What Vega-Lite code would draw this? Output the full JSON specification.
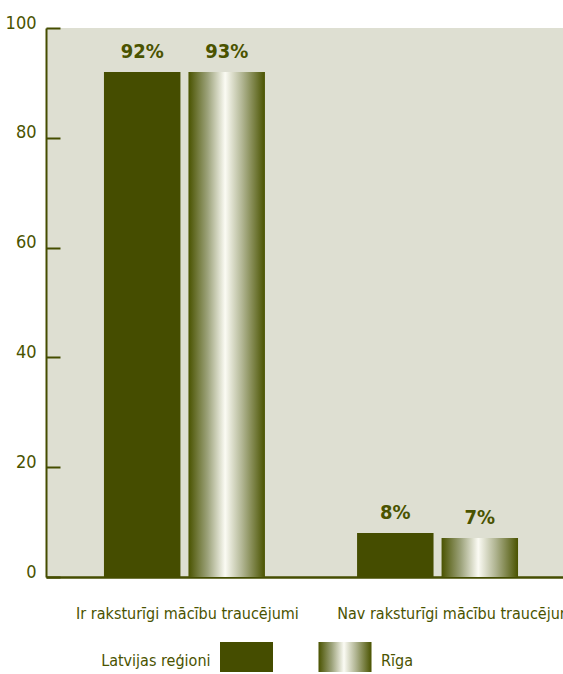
{
  "$schema": "https://vega.github.io/schema/vega-lite/v6.json",
  "background": "white",
  "padding": {"left": 5, "top": 14, "right": 0, "bottom": 0},
  "config": {
    "font": "DejaVu Sans Condensed, DejaVu Sans, sans-serif",
    "view": {"stroke": null}
  },
  "datasets": {
    "bars": [
      {"category": "Ir raksturīgi mācību traucējumi", "series": "Latvijas reģioni", "value": 92, "label": "92%"},
      {"category": "Ir raksturīgi mācību traucējumi", "series": "Rīga", "value": 92, "label": "93%"},
      {"category": "Nav raksturīgi mācību traucējumi", "series": "Latvijas reģioni", "value": 8, "label": "8%"},
      {"category": "Nav raksturīgi mācību traucējumi", "series": "Rīga", "value": 7.1, "label": "7%"}
    ],
    "legend": [
      {"series": "Latvijas reģioni"},
      {"series": "Rīga"}
    ]
  },
  "spacing": 65,
  "bounds": "flush",
  "resolve": {"scale": {"x": "independent", "y": "independent"}},
  "vconcat": [
    {
      "width": 530,
      "height": 549,
      "view": {"fill": "#dedfd2", "stroke": null},
      "data": {"name": "bars"},
      "encoding": {
        "x": {
          "field": "category", "type": "nominal",
          "sort": ["Ir raksturīgi mācību traucējumi", "Nav raksturīgi mācību traucējumi"],
          "scale": {"paddingInner": 0.364, "paddingOuter": 0.229},
          "axis": {
            "title": null, "labelAngle": 0, "ticks": false,
            "domainColor": "#454d00", "domainWidth": 2.5,
            "labelFontSize": 16, "labelColor": "#4a5300",
            "labelBaseline": "alphabetic", "labelPadding": 41,
            "labelOffset": {"condition": {"test": "datum.value === 'Nav raksturīgi mācību traucējumi'", "value": 20}, "value": 3},
            "labelLimit": 0
          }
        },
        "xOffset": {
          "field": "series", "type": "nominal",
          "sort": ["Latvijas reģioni", "Rīga"],
          "scale": {"paddingInner": 0.095}
        },
        "y": {
          "field": "value", "type": "quantitative",
          "scale": {"domain": [0, 100]},
          "axis": {
            "title": null, "grid": false, "values": [0, 20, 40, 60, 80, 100],
            "tickSize": -14, "tickWidth": 2, "tickColor": "#454d00",
            "domainColor": "#454d00", "domainWidth": 2,
            "labelFontSize": 18, "labelColor": "#4a5300", "labelPadding": 24,
            "labelBaseline": "alphabetic"
          }
        }
      },
      "layer": [
        {
          "transform": [{"filter": "datum.series === 'Latvijas reģioni'"}],
          "mark": {"type": "bar", "color": "#454d00"}
        },
        {
          "transform": [{"filter": "datum.series === 'Rīga'"}],
          "mark": {
            "type": "bar",
            "color": {
              "gradient": "linear", "x1": 0, "x2": 1, "y1": 0, "y2": 0,
              "stops": [
                {"offset": 0, "color": "#4a5300"},
                {"offset": 0.25, "color": "#9ca27a"},
                {"offset": 0.48, "color": "#fbfbf4"},
                {"offset": 0.7, "color": "#b2b694"},
                {"offset": 1, "color": "#4a5300"}
              ]
            }
          }
        },
        {
          "mark": {"type": "text", "baseline": "alphabetic", "dy": -14, "fontSize": 20, "fontWeight": "bold", "color": "#4a5300"},
          "encoding": {"text": {"field": "label"}}
        }
      ]
    },
    {
      "width": 530,
      "height": 30,
      "data": {"name": "legend"},
      "encoding": {
        "x": {
          "field": "series", "type": "nominal",
          "sort": ["Latvijas reģioni", "Rīga"],
          "scale": {"type": "point", "padding": 0, "range": [200.5, 299]},
          "axis": null
        },
        "y": {"datum": 1, "type": "quantitative", "scale": {"domain": [0, 1]}, "axis": null}
      },
      "layer": [
        {
          "transform": [{"filter": "datum.series === 'Latvijas reģioni'"}],
          "mark": {"type": "bar", "width": 53, "color": "#454d00"}
        },
        {
          "transform": [{"filter": "datum.series === 'Rīga'"}],
          "mark": {
            "type": "bar", "width": 53,
            "color": {
              "gradient": "linear", "x1": 0, "x2": 1, "y1": 0, "y2": 0,
              "stops": [
                {"offset": 0, "color": "#4a5300"},
                {"offset": 0.25, "color": "#9ca27a"},
                {"offset": 0.48, "color": "#fbfbf4"},
                {"offset": 0.7, "color": "#b2b694"},
                {"offset": 1, "color": "#4a5300"}
              ]
            }
          }
        },
        {
          "transform": [{"filter": "datum.series === 'Latvijas reģioni'"}],
          "mark": {"type": "text", "align": "right", "baseline": "middle", "dx": -36, "dy": 4, "fontSize": 16, "color": "#4a5300"},
          "encoding": {"y": {"datum": 0.5, "type": "quantitative"}, "text": {"field": "series"}}
        },
        {
          "transform": [{"filter": "datum.series === 'Rīga'"}],
          "mark": {"type": "text", "align": "left", "baseline": "middle", "dx": 36, "dy": 4, "fontSize": 16, "color": "#4a5300"},
          "encoding": {"y": {"datum": 0.5, "type": "quantitative"}, "text": {"field": "series"}}
        }
      ]
    }
  ]
}
